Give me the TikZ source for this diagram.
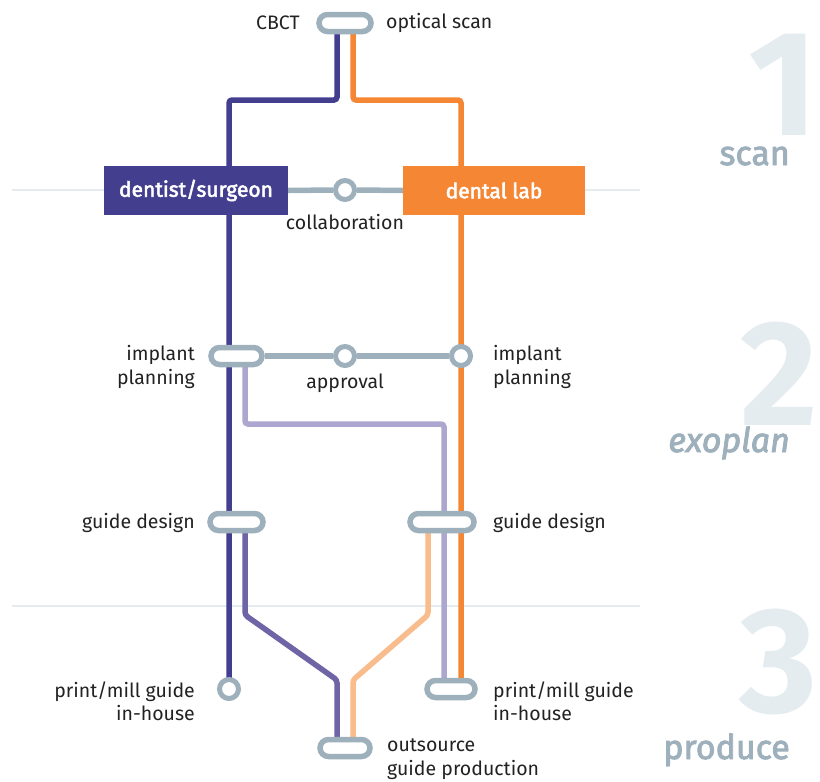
\documentclass[tikz,border=0pt]{standalone}
\usepackage{fontspec}
\setmainfont{Fira Sans}
\newfontfamily\firamed{Fira Sans}[FakeBold=2.5]
\newfontfamily\firanum{Fira Sans}[FakeBold=3]
\definecolor{dp}{HTML}{433F8E}
\definecolor{og}{HTML}{F58634}
\definecolor{mp}{HTML}{6E64A6}
\definecolor{lp}{HTML}{ADA6CF}
\definecolor{lo}{HTML}{F9BC8C}
\definecolor{gr}{HTML}{9DB0BC}
\definecolor{pale}{HTML}{E5ECF0}
\definecolor{txt}{HTML}{222222}
\begin{document}
\begin{tikzpicture}[x=1pt,y=-1pt,
  track/.style={line width=5.5pt, rounded corners=3pt},
  link/.style={draw=gr, line width=5.5pt},
  pill/.style={draw=gr, fill=white, line width=5.5pt, rectangle, rounded corners=8.5pt, minimum height=17pt, inner sep=0pt},
  stop/.style={draw=gr, fill=white, line width=5pt, circle, minimum size=19pt, inner sep=0pt},
  role/.style={rectangle, minimum height=49pt, text=white, font=\fontsize{21}{24}\firamed, inner sep=0pt},
  lbl/.style={text=txt, font=\fontsize{19.5}{23.5}\selectfont, inner sep=0pt},
  phase/.style={text=gr, font=\fontsize{34}{34}\firamed, inner sep=0pt, anchor=base east},
  bignum/.style={text=pale, font=\fontsize{150}{150}\bfseries, inner sep=0pt, anchor=base east},
  sep/.style={draw=pale, line width=2pt}]
\useasboundingbox (0,0) rectangle (820,782);

% phase numbers and titles
\node[bignum] (n1) at (818,135) {1};
\node[bignum] (n2) at (818,425) {2};
\node[bignum] (n3) at (818,712) {3};
\node[phase] (p1) at (790,165) {scan};
\node[phase] (p2) at (790,452) {\itshape exoplan};
\node[phase] (p3) at (790,759) {produce};

% separators
\coordinate (s1a) at (12,190); \coordinate (s1b) at (640,190);
\coordinate (s2a) at (12,606); \coordinate (s2b) at (640,606);
\draw[sep] (s1a) -- (s1b);
\draw[sep] (s2a) -- (s2b);

% node positions
\coordinate (cscan) at (345,23);
\coordinate (cdent) at (196,190.5);
\coordinate (clab) at (494,190.5);
\coordinate (ccol) at (345,190);
\coordinate (cipl) at (236.5,356);
\coordinate (capp) at (345,356);
\coordinate (cipr) at (461,356);
\coordinate (cgdl) at (236.5,522);
\coordinate (cgdr) at (442,522);
\coordinate (cpl) at (229,689);
\coordinate (cpr) at (451,689);
\coordinate (cout) at (345,748);

% bend points
\coordinate (a1) at (337,100); \coordinate (a2) at (229,100);
\coordinate (b1) at (353,100); \coordinate (b2) at (461,100);
\coordinate (c0) at (245,356); \coordinate (c1) at (245,424); \coordinate (c2) at (444,424); \coordinate (c3) at (444,689);
\coordinate (d0) at (245,522); \coordinate (d1) at (245,615); \coordinate (d2) at (337,680); \coordinate (d3) at (337,748);
\coordinate (e0) at (428,522); \coordinate (e1) at (428,615); \coordinate (e2) at (353,680); \coordinate (e3) at (353,748);
\coordinate (a0) at (337,23); \coordinate (b0) at (353,23); \coordinate (b3) at (461,689);

% tracks
\draw[track, draw=lp] (c0) -- (c1) -- (c2) -- (c3);
\draw[track, draw=dp] (a0) -- (a1) -- (a2) -- (cpl);
\draw[track, draw=og] (b0) -- (b1) -- (b2) -- (b3);
\draw[track, draw=mp] (d0) -- (d1) -- (d2) -- (d3);
\draw[track, draw=lo] (e0) -- (e1) -- (e2) -- (e3);

% nodes
\node[pill, minimum width=52pt] (scan) at (cscan) {};
\node[role, fill=dp, minimum width=184pt] (dent) at (cdent) {dentist/surgeon};
\node[role, fill=og, minimum width=182pt] (lab) at (clab) {dental lab};
\node[stop] (col) at (ccol) {};
\node[pill, minimum width=51pt] (ipl) at (cipl) {};
\node[stop] (app) at (capp) {};
\node[stop] (ipr) at (cipr) {};
\node[pill, minimum width=53pt] (gdl) at (cgdl) {};
\node[pill, minimum width=64pt] (gdr) at (cgdr) {};
\node[stop] (pl) at (cpl) {};
\node[pill, minimum width=48pt] (pr) at (cpr) {};
\node[pill, minimum width=50pt] (out) at (cout) {};

% gray links
\draw[link] (dent.east) -- (col.west);
\draw[link] (col.east) -- (lab.west);
\draw[link] (ipl.east) -- (app.west);
\draw[link] (app.east) -- (ipr.west);

% labels
\node[lbl, anchor=east] (tcbct) at (300,23) {CBCT};
\node[lbl, anchor=west] (topt) at (386,23) {optical scan};
\node[lbl, anchor=center] (tcol) at (345,222) {collaboration};
\node[lbl, anchor=east, align=right] (tipl) at (195,367) {implant\\planning};
\node[lbl, anchor=center] (tapp) at (345,383) {approval};
\node[lbl, anchor=west, align=left] (tipr) at (493,367) {implant\\planning};
\node[lbl, anchor=east] (tgdl) at (195,523) {guide design};
\node[lbl, anchor=west] (tgdr) at (493,523) {guide design};
\node[lbl, anchor=east, align=right] (tpl) at (195,701) {print/mill guide\\in-house};
\node[lbl, anchor=west, align=left] (tpr) at (493,701) {print/mill guide\\in-house};
\node[lbl, anchor=west, align=left] (tout) at (387,759) {outsource\\guide production};
\end{tikzpicture}
\end{document}
